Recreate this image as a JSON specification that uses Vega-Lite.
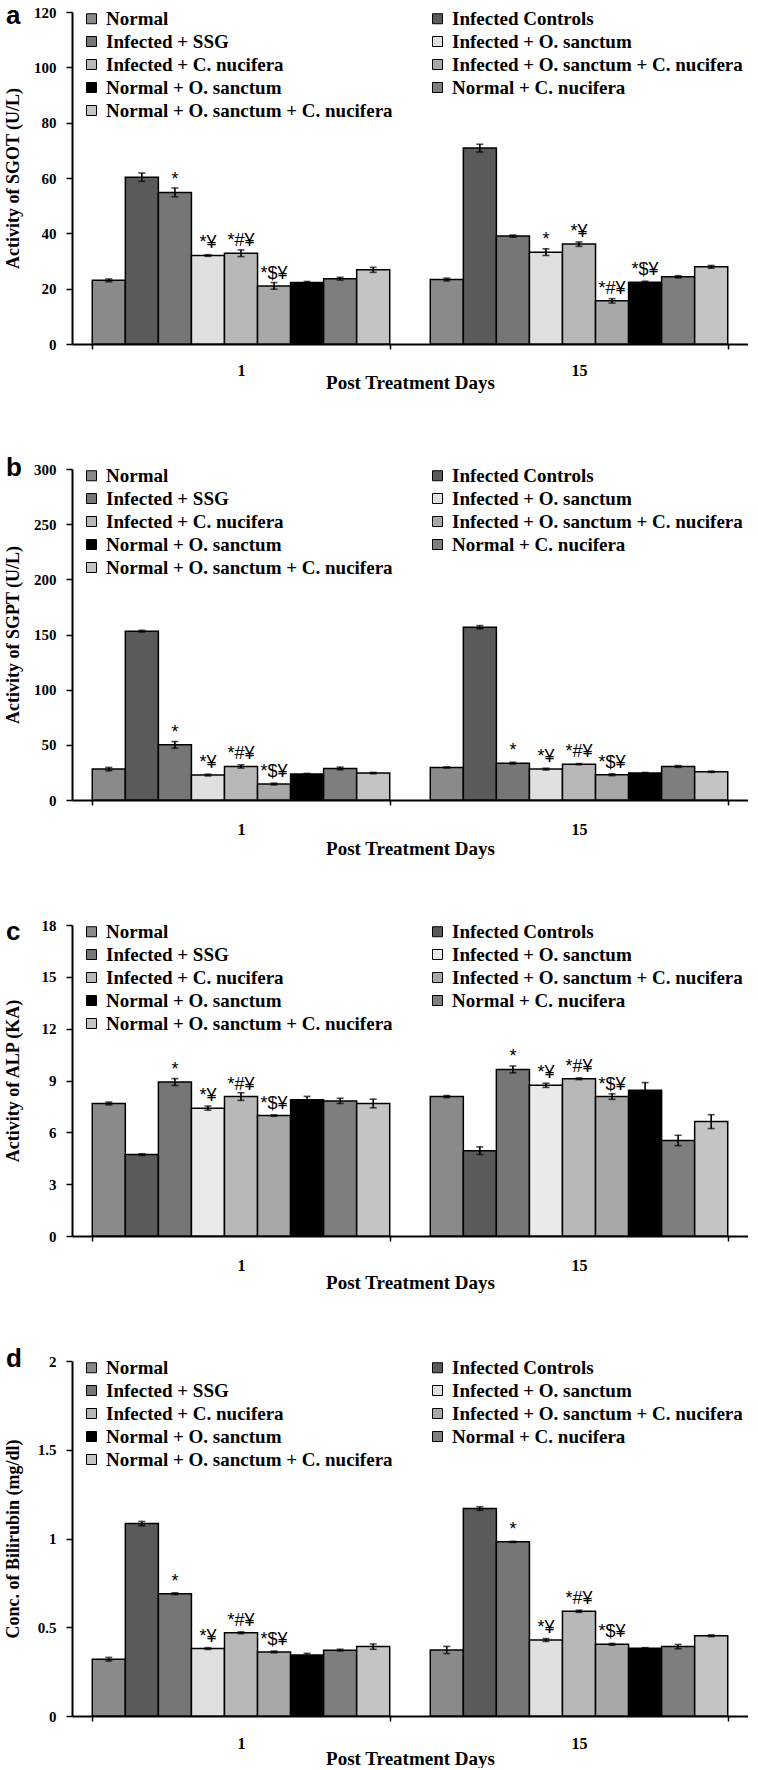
{
"$schema": "https://vega.github.io/schema/vega-lite/v6.json",
"padding": {"left": 4, "top": 3, "right": 0, "bottom": 0},
"bounds": "flush",
"spacing": 125,
"datasets": {"all": [
{"p":"a","day":"1","g":"Normal","v":23,"e":0.5,"s":""},
{"p":"a","day":"1","g":"Infected Controls","v":60.3,"e":1.5,"s":""},
{"p":"a","day":"1","g":"Infected + SSG","v":54.8,"e":1.6,"s":"*"},
{"p":"a","day":"1","g":"Infected + O. sanctum","v":32,"e":0.3,"s":"*¥"},
{"p":"a","day":"1","g":"Infected + C. nucifera","v":32.8,"e":1.2,"s":"*#¥"},
{"p":"a","day":"1","g":"Infected + O. sanctum + C. nucifera","v":21,"e":1.2,"s":"*$¥"},
{"p":"a","day":"1","g":"Normal + O. sanctum","v":22.2,"e":0.4,"s":""},
{"p":"a","day":"1","g":"Normal + C. nucifera","v":23.6,"e":0.5,"s":""},
{"p":"a","day":"1","g":"Normal + O. sanctum + C. nucifera","v":26.8,"e":0.9,"s":""},
{"p":"a","day":"15","g":"Normal","v":23.3,"e":0.5,"s":""},
{"p":"a","day":"15","g":"Infected Controls","v":70.8,"e":1.4,"s":""},
{"p":"a","day":"15","g":"Infected + SSG","v":39,"e":0.4,"s":""},
{"p":"a","day":"15","g":"Infected + O. sanctum","v":33.2,"e":1.2,"s":"*"},
{"p":"a","day":"15","g":"Infected + C. nucifera","v":36.1,"e":0.8,"s":"*¥"},
{"p":"a","day":"15","g":"Infected + O. sanctum + C. nucifera","v":15.6,"e":0.8,"s":"*#¥"},
{"p":"a","day":"15","g":"Normal + O. sanctum","v":22.3,"e":0.4,"s":"*$¥"},
{"p":"a","day":"15","g":"Normal + C. nucifera","v":24.3,"e":0.4,"s":""},
{"p":"a","day":"15","g":"Normal + O. sanctum + C. nucifera","v":27.9,"e":0.5,"s":""},
{"p":"b","day":"1","g":"Normal","v":28,"e":1.5,"s":""},
{"p":"b","day":"1","g":"Infected Controls","v":153,"e":0.8,"s":""},
{"p":"b","day":"1","g":"Infected + SSG","v":50,"e":3,"s":"*"},
{"p":"b","day":"1","g":"Infected + O. sanctum","v":22.6,"e":0.8,"s":"*¥"},
{"p":"b","day":"1","g":"Infected + C. nucifera","v":30.4,"e":1.5,"s":"*#¥"},
{"p":"b","day":"1","g":"Infected + O. sanctum + C. nucifera","v":14.5,"e":0.8,"s":"*$¥"},
{"p":"b","day":"1","g":"Normal + O. sanctum","v":23.5,"e":0.6,"s":""},
{"p":"b","day":"1","g":"Normal + C. nucifera","v":28.6,"e":1.2,"s":""},
{"p":"b","day":"1","g":"Normal + O. sanctum + C. nucifera","v":24.4,"e":0.6,"s":""},
{"p":"b","day":"15","g":"Normal","v":29.5,"e":0.5,"s":""},
{"p":"b","day":"15","g":"Infected Controls","v":156.6,"e":1.5,"s":""},
{"p":"b","day":"15","g":"Infected + SSG","v":33.4,"e":0.8,"s":"*"},
{"p":"b","day":"15","g":"Infected + O. sanctum","v":28,"e":0.8,"s":"*¥"},
{"p":"b","day":"15","g":"Infected + C. nucifera","v":32.5,"e":0.5,"s":"*#¥"},
{"p":"b","day":"15","g":"Infected + O. sanctum + C. nucifera","v":22.9,"e":0.8,"s":"*$¥"},
{"p":"b","day":"15","g":"Normal + O. sanctum","v":24.4,"e":0.6,"s":""},
{"p":"b","day":"15","g":"Normal + C. nucifera","v":30.4,"e":0.8,"s":""},
{"p":"b","day":"15","g":"Normal + O. sanctum + C. nucifera","v":25.6,"e":0.6,"s":""},
{"p":"c","day":"1","g":"Normal","v":7.67,"e":0.08,"s":""},
{"p":"c","day":"1","g":"Infected Controls","v":4.71,"e":0.05,"s":""},
{"p":"c","day":"1","g":"Infected + SSG","v":8.91,"e":0.2,"s":"*"},
{"p":"c","day":"1","g":"Infected + O. sanctum","v":7.4,"e":0.12,"s":"*¥"},
{"p":"c","day":"1","g":"Infected + C. nucifera","v":8.07,"e":0.22,"s":"*#¥"},
{"p":"c","day":"1","g":"Infected + O. sanctum + C. nucifera","v":6.97,"e":0.04,"s":"*$¥"},
{"p":"c","day":"1","g":"Normal + O. sanctum","v":7.88,"e":0.2,"s":""},
{"p":"c","day":"1","g":"Normal + C. nucifera","v":7.82,"e":0.15,"s":""},
{"p":"c","day":"1","g":"Normal + O. sanctum + C. nucifera","v":7.67,"e":0.25,"s":""},
{"p":"c","day":"15","g":"Normal","v":8.07,"e":0.06,"s":""},
{"p":"c","day":"15","g":"Infected Controls","v":4.94,"e":0.22,"s":""},
{"p":"c","day":"15","g":"Infected + SSG","v":9.64,"e":0.2,"s":"*"},
{"p":"c","day":"15","g":"Infected + O. sanctum","v":8.72,"e":0.12,"s":"*¥"},
{"p":"c","day":"15","g":"Infected + C. nucifera","v":9.1,"e":0.05,"s":"*#¥"},
{"p":"c","day":"15","g":"Infected + O. sanctum + C. nucifera","v":8.07,"e":0.16,"s":"*$¥"},
{"p":"c","day":"15","g":"Normal + O. sanctum","v":8.43,"e":0.45,"s":""},
{"p":"c","day":"15","g":"Normal + C. nucifera","v":5.53,"e":0.3,"s":""},
{"p":"c","day":"15","g":"Normal + O. sanctum + C. nucifera","v":6.62,"e":0.4,"s":""},
{"p":"d","day":"1","g":"Normal","v":0.32,"e":0.01,"s":""},
{"p":"d","day":"1","g":"Infected Controls","v":1.084,"e":0.012,"s":""},
{"p":"d","day":"1","g":"Infected + SSG","v":0.689,"e":0.005,"s":"*"},
{"p":"d","day":"1","g":"Infected + O. sanctum","v":0.38,"e":0.005,"s":"*¥"},
{"p":"d","day":"1","g":"Infected + C. nucifera","v":0.469,"e":0.005,"s":"*#¥"},
{"p":"d","day":"1","g":"Infected + O. sanctum + C. nucifera","v":0.361,"e":0.005,"s":"*$¥"},
{"p":"d","day":"1","g":"Normal + O. sanctum","v":0.343,"e":0.01,"s":""},
{"p":"d","day":"1","g":"Normal + C. nucifera","v":0.371,"e":0.005,"s":""},
{"p":"d","day":"1","g":"Normal + O. sanctum + C. nucifera","v":0.391,"e":0.015,"s":""},
{"p":"d","day":"15","g":"Normal","v":0.372,"e":0.02,"s":""},
{"p":"d","day":"15","g":"Infected Controls","v":1.169,"e":0.01,"s":""},
{"p":"d","day":"15","g":"Infected + SSG","v":0.981,"e":0.003,"s":"*"},
{"p":"d","day":"15","g":"Infected + O. sanctum","v":0.428,"e":0.008,"s":"*¥"},
{"p":"d","day":"15","g":"Infected + C. nucifera","v":0.59,"e":0.006,"s":"*#¥"},
{"p":"d","day":"15","g":"Infected + O. sanctum + C. nucifera","v":0.404,"e":0.005,"s":"*$¥"},
{"p":"d","day":"15","g":"Normal + O. sanctum","v":0.382,"e":0.003,"s":""},
{"p":"d","day":"15","g":"Normal + C. nucifera","v":0.391,"e":0.012,"s":""},
{"p":"d","day":"15","g":"Normal + O. sanctum + C. nucifera","v":0.452,"e":0.005,"s":""}
]},
"data": {"name": "all"},
"resolve": {"scale": {"fill": "independent", "y": "independent", "x": "independent", "xOffset": "independent"}, "legend": {"fill": "independent"}, "axis": {"x": "independent", "y": "independent"}},
"vconcat": [
{
"width": 676, "height": 332,
"title": {"text": "a", "dx": -66, "dy": 28},
"transform": [{"filter": "datum.p == 'a'"}],
"encoding": {
 "x": {"field": "day", "type": "ordinal", "scale": {"paddingInner": 0.12, "paddingOuter": 0.06}, "axis": {"title": "Post Treatment Days", "labelPadding": 13, "titlePadding": -5}},
 "xOffset": {"field": "g", "sort": ["Normal","Infected Controls","Infected + SSG","Infected + O. sanctum","Infected + C. nucifera","Infected + O. sanctum + C. nucifera","Normal + O. sanctum","Normal + C. nucifera","Normal + O. sanctum + C. nucifera"], "scale": {"paddingInner": 0, "paddingOuter": 0}},
 "y": {"field": "v", "type": "quantitative", "scale": {"domain": [0, 120], "nice": false}, "axis": {"values": [0,20,40,60,80,100,120], "title": "Activity of  SGOT  (U/L)"}}
},
"layer": [
 {"mark": {"type": "bar", "stroke": "black", "strokeWidth": 1.5},
  "encoding": {"fill": {"field": "g", "type": "nominal", "scale": {"domain": ["Normal","Infected Controls","Infected + SSG","Infected + O. sanctum","Infected + C. nucifera","Infected + O. sanctum + C. nucifera","Normal + O. sanctum","Normal + C. nucifera","Normal + O. sanctum + C. nucifera"], "range": ["#8a8a8a","#5a5a5a","#767676","#e0e0e0","#b8b8b8","#a8a8a8","#000000","#7e7e7e","#c4c4c4"]}}}},
 {"mark": {"type": "errorbar", "ticks": {"size": 7}, "thickness": 1.6, "color": "black"}, "encoding": {"yError": {"field": "e"}}},
 {"mark": {"type": "text", "baseline": "bottom", "dy": -3, "font": "Liberation Sans", "fontSize": 18, "color": "black"}, "encoding": {"text": {"field": "s"}}}
]
},
{
"width": 676, "height": 331,
"title": {"text": "b", "dx": -66, "dy": 23},
"transform": [{"filter": "datum.p == 'b'"}],
"encoding": {
 "x": {"field": "day", "type": "ordinal", "scale": {"paddingInner": 0.12, "paddingOuter": 0.06}, "axis": {"title": "Post Treatment Days", "labelPadding": 16, "titlePadding": 2}},
 "xOffset": {"field": "g", "sort": ["Normal","Infected Controls","Infected + SSG","Infected + O. sanctum","Infected + C. nucifera","Infected + O. sanctum + C. nucifera","Normal + O. sanctum","Normal + C. nucifera","Normal + O. sanctum + C. nucifera"], "scale": {"paddingInner": 0, "paddingOuter": 0}},
 "y": {"field": "v", "type": "quantitative", "scale": {"domain": [0, 300], "nice": false}, "axis": {"values": [0,50,100,150,200,250,300], "title": "Activity of SGPT (U/L)"}}
},
"layer": [
 {"mark": {"type": "bar", "stroke": "black", "strokeWidth": 1.5},
  "encoding": {"fill": {"field": "g", "type": "nominal", "scale": {"domain": ["Normal","Infected Controls","Infected + SSG","Infected + O. sanctum","Infected + C. nucifera","Infected + O. sanctum + C. nucifera","Normal + O. sanctum","Normal + C. nucifera","Normal + O. sanctum + C. nucifera"], "range": ["#8a8a8a","#5a5a5a","#767676","#e0e0e0","#b8b8b8","#a8a8a8","#000000","#7e7e7e","#c4c4c4"]}}}},
 {"mark": {"type": "errorbar", "ticks": {"size": 7}, "thickness": 1.6, "color": "black"}, "encoding": {"yError": {"field": "e"}}},
 {"mark": {"type": "text", "baseline": "bottom", "dy": -3, "font": "Liberation Sans", "fontSize": 18, "color": "black"}, "encoding": {"text": {"field": "s"}}}
]
},
{
"width": 676, "height": 311,
"title": {"text": "c", "dx": -66, "dy": 31},
"transform": [{"filter": "datum.p == 'c'"}],
"encoding": {
 "x": {"field": "day", "type": "ordinal", "scale": {"paddingInner": 0.12, "paddingOuter": 0.06}, "axis": {"title": "Post Treatment Days", "labelPadding": 16, "titlePadding": 0}},
 "xOffset": {"field": "g", "sort": ["Normal","Infected Controls","Infected + SSG","Infected + O. sanctum","Infected + C. nucifera","Infected + O. sanctum + C. nucifera","Normal + O. sanctum","Normal + C. nucifera","Normal + O. sanctum + C. nucifera"], "scale": {"paddingInner": 0, "paddingOuter": 0}},
 "y": {"field": "v", "type": "quantitative", "scale": {"domain": [0, 18], "nice": false}, "axis": {"values": [0,3,6,9,12,15,18], "title": "Activity of ALP (KA)"}}
},
"layer": [
 {"mark": {"type": "bar", "stroke": "black", "strokeWidth": 1.5},
  "encoding": {"fill": {"field": "g", "type": "nominal", "scale": {"domain": ["Normal","Infected Controls","Infected + SSG","Infected + O. sanctum","Infected + C. nucifera","Infected + O. sanctum + C. nucifera","Normal + O. sanctum","Normal + C. nucifera","Normal + O. sanctum + C. nucifera"], "range": ["#8a8a8a","#5a5a5a","#767676","#eaeaea","#b8b8b8","#a8a8a8","#000000","#7e7e7e","#c4c4c4"]}}}},
 {"mark": {"type": "errorbar", "ticks": {"size": 7}, "thickness": 1.6, "color": "black"}, "encoding": {"yError": {"field": "e"}}},
 {"mark": {"type": "text", "baseline": "bottom", "dy": -3, "font": "Liberation Sans", "fontSize": 18, "color": "black"}, "encoding": {"text": {"field": "s"}}}
]
},
{
"width": 676, "height": 355,
"title": {"text": "d", "dx": -66, "dy": 22},
"transform": [{"filter": "datum.p == 'd'"}],
"encoding": {
 "x": {"field": "day", "type": "ordinal", "scale": {"paddingInner": 0.12, "paddingOuter": 0.06}, "axis": {"title": "Post Treatment Days", "labelPadding": 14, "titlePadding": -2}},
 "xOffset": {"field": "g", "sort": ["Normal","Infected Controls","Infected + SSG","Infected + O. sanctum","Infected + C. nucifera","Infected + O. sanctum + C. nucifera","Normal + O. sanctum","Normal + C. nucifera","Normal + O. sanctum + C. nucifera"], "scale": {"paddingInner": 0, "paddingOuter": 0}},
 "y": {"field": "v", "type": "quantitative", "scale": {"domain": [0, 2], "nice": false}, "axis": {"values": [0,0.5,1,1.5,2], "format": "~g", "title": "Conc. of Bilirubin (mg/dl)"}}
},
"layer": [
 {"mark": {"type": "bar", "stroke": "black", "strokeWidth": 1.5},
  "encoding": {"fill": {"field": "g", "type": "nominal", "scale": {"domain": ["Normal","Infected Controls","Infected + SSG","Infected + O. sanctum","Infected + C. nucifera","Infected + O. sanctum + C. nucifera","Normal + O. sanctum","Normal + C. nucifera","Normal + O. sanctum + C. nucifera"], "range": ["#8a8a8a","#5a5a5a","#767676","#e0e0e0","#b8b8b8","#a8a8a8","#000000","#7e7e7e","#c4c4c4"]}}}},
 {"mark": {"type": "errorbar", "ticks": {"size": 7}, "thickness": 1.6, "color": "black"}, "encoding": {"yError": {"field": "e"}}},
 {"mark": {"type": "text", "baseline": "bottom", "dy": -3, "font": "Liberation Sans", "fontSize": 18, "color": "black"}, "encoding": {"text": {"field": "s"}}}
]
}
],
"config": {
 "view": {"stroke": null},
 "font": "Liberation Serif",
 "title": {"anchor": "start", "frame": "group", "font": "Liberation Sans", "fontSize": 26, "fontWeight": "bold", "color": "black", "offset": 0, "baseline": "alphabetic"},
 "axis": {"domainColor": "black", "domainWidth": 2, "tickColor": "black", "tickWidth": 1.5, "grid": false, "labelFont": "Liberation Serif", "labelFontWeight": "bold", "labelColor": "black", "titleFont": "Liberation Serif", "titleFontWeight": "bold", "titleColor": "black"},
 "axisY": {"tickSize": 6, "labelPadding": 10, "labelFontSize": 15, "titleFontSize": 18, "minExtent": 40, "maxExtent": 40, "titlePadding": 10},
 "axisX": {"tickSize": 5, "tickBand": "extent", "labelAngle": 0, "labelFontSize": 16, "titleFontSize": 19},
 "legend": {"orient": "none", "legendX": 10, "legendY": -3, "direction": "horizontal", "columns": 2, "title": null, "symbolType": "square", "symbolSize": 100, "symbolStrokeColor": "black", "symbolStrokeWidth": 1, "symbolOpacity": 1, "labelFont": "Liberation Serif", "labelFontSize": 19, "labelFontWeight": "bold", "labelColor": "black", "rowPadding": 3, "columnPadding": 35, "labelLimit": 500, "padding": 0, "labelOffset": 5}
}
}
